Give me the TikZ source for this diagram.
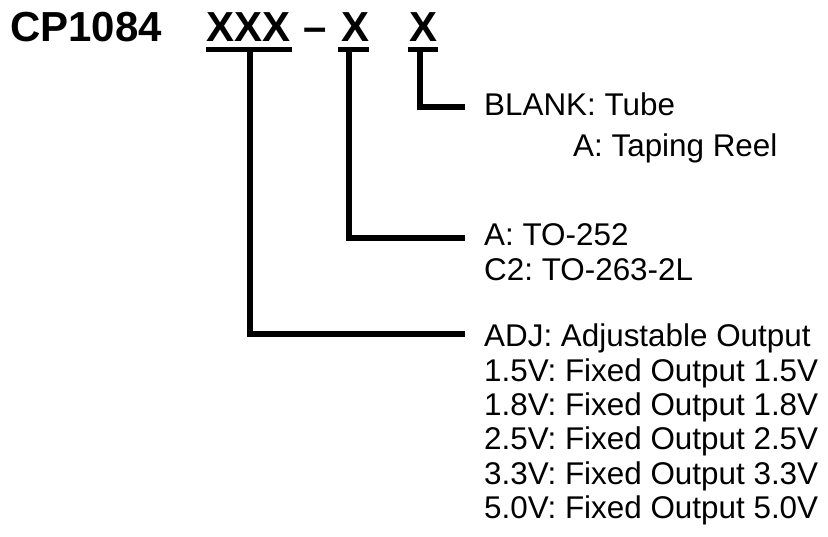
\documentclass[tikz,border=0pt]{standalone}
\usepackage{fontspec}
\setmainfont{Liberation Sans}
\usepackage{tikz}
\frenchspacing
\tikzset{
  code/.style={anchor=base west,inner sep=0pt,font=\fontsize{42}{42}\selectfont\bfseries},
  opt/.style={anchor=base west,inner sep=0pt,font=\fontsize{31.4}{34}\selectfont},
  lead/.style={line width=5.5pt},
  uline/.style={line width=5pt}
}
\begin{document}
\begin{tikzpicture}[x=1pt,y=-1pt]
	\useasboundingbox (0,0) rectangle (828,537);
	% part number
	\node[code] (part) at (10,42) {CP1084};
	\node[code] (xxx) at (206,42) {XXX};
	\node[code] (dash) at (303,42) {\textendash};
	\node[code] (xa) at (341,42) {X};
	\node[code] (xb) at (409.5,42) {X};
	\draw[uline] ([yshift=-7.5pt]xxx.base west) -- ([yshift=-7.5pt,xshift=2pt]xxx.base east);
	\draw[uline] ([yshift=-7.5pt,xshift=-3pt]xa.base west) -- ([yshift=-7.5pt]xa.base east);
	\draw[uline] ([yshift=-7.5pt,xshift=-2pt]xb.base west) -- ([yshift=-7.5pt,xshift=0pt]xb.base east);
	
	% packing
	\node[opt] (blank) at (484,116) {BLANK: Tube};
	\node[opt] (reel) at (573,157) {A: Taping Reel};
	% package
	\node[opt] (pkga) at (484,246) {A: TO-252};
	\node[opt] (pkgc) at (484,281) {C2: TO-263-2L};
	% output voltage
	\node[opt] (adj) at (484,347) {ADJ: Adjustable Output};
	\node[opt] (v15) at (484,381.3) {1.5V: Fixed Output 1.5V};
	\node[opt] (v18) at (484,415.6) {1.8V: Fixed Output 1.8V};
	\node[opt] (v25) at (484,449.9) {2.5V: Fixed Output 2.5V};
	\node[opt] (v33) at (484,484.2) {3.3V: Fixed Output 3.3V};
	\node[opt] (v50) at (484,518.5) {5.0V: Fixed Output 5.0V};
	
	% leaders
	\draw[lead] ([yshift=-7.5pt,xshift=2pt]xxx.base) |- ([xshift=-19pt,yshift=13pt]adj.base west);
	\draw[lead] ([yshift=-7.5pt,xshift=-6pt]xa.base) |- ([xshift=-19pt,yshift=8pt]pkga.base west);
	\draw[lead] ([yshift=-7.5pt,xshift=-3.5pt]xb.base) |- ([xshift=-19pt,yshift=9pt]blank.base west);
\end{tikzpicture}
\end{document}
